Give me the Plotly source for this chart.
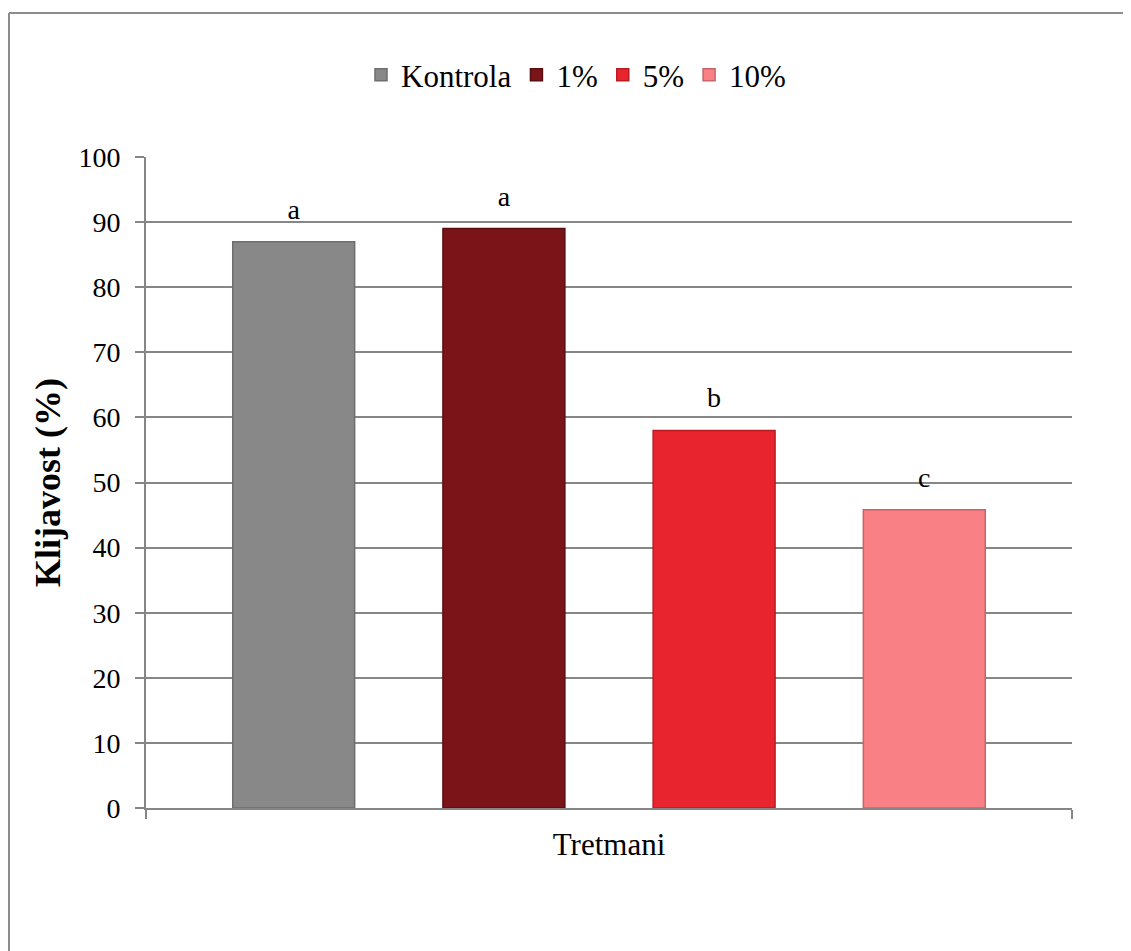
import plotly.graph_objects as go

category = ["Tretmani"]
series_names = ["Kontrola", "1%", "5%", "10%"]
values = [87, 89, 58, 45.8]
letters = ["a", "a", "b", "c"]
colors = ["#888888", "#7A1418", "#E8252E", "#F98084"]
edge_colors = ["#6E6E6E", "#5A0E10", "#B81C22", "#C86467"]
y_ticks = [0, 10, 20, 30, 40, 50, 60, 70, 80, 90, 100]

FONT = "Liberation Serif"

fig = go.Figure()
for name, v, c, ec in zip(series_names, values, colors, edge_colors):
    fig.add_trace(go.Bar(
        name=name, x=category, y=[v], offsetgroup=name,
        marker=dict(color=c, line=dict(color=ec, width=1.5)),
    ))
for name, v, lab in zip(series_names, values, letters):
    fig.add_trace(go.Scatter(
        x=category, y=[v], text=[lab], mode="markers+text", offsetgroup=name,
        textposition="top center", showlegend=False, cliponaxis=False,
        marker=dict(size=24, opacity=0, color="white"),
        textfont=dict(family=FONT, size=28, color="black"),
    ))

# the page body adds an 8px offset; figure coords = reference coords - 8
OFF = 8
W, H = 1131 - OFF, 951 - OFF
L, R, T, B = 146 - OFF, 59, 157 - OFF, 143
pw, ph = W - L - R, H - T - B

def px_x(x):
    return (x - OFF - L) / pw

def px_y(y):
    return (H - B - (y - OFF)) / ph

fig.update_layout(
    width=W, height=H,
    margin=dict(l=L, r=R, t=T, b=B),
    paper_bgcolor="white", plot_bgcolor="white",
    barmode="group", bargap=0.092, bargroupgap=0.42,
    scattermode="group", scattergap=0.092,
    font=dict(family=FONT, size=28, color="black"),
    showlegend=True,
    legend=dict(orientation="h", x=px_x(576), xanchor="center", y=px_y(75), yanchor="middle",
                font=dict(family=FONT, size=31, color="black"), itemwidth=30, traceorder="normal",
                bgcolor="rgba(0,0,0,0)"),
    xaxis=dict(type="category", tickson="boundaries", ticks="outside", ticklen=9,
               tickcolor="#868686", tickwidth=2, showline=True, linecolor="#868686", linewidth=2,
               showgrid=False, range=[-0.5, 0.5], tickfont=dict(family=FONT, size=31),
               ticklabelstandoff=8),
    yaxis=dict(range=[0, 100], tickvals=y_ticks, ticks="outside", ticklen=9, tickcolor="#868686",
               tickwidth=2, showline=True, linecolor="#868686", linewidth=2,
               showgrid=True, gridcolor="#868686", gridwidth=1.5, zeroline=False,
               tickfont=dict(family=FONT, size=28), ticklabelstandoff=9,
               title=dict(text="<b>Klijavost (%)</b>", font=dict(family=FONT, size=36), standoff=7)),
    shapes=[
        dict(type="line", xref="paper", yref="paper", x0=px_x(9), x1=px_x(9), y0=px_y(970), y1=px_y(13),
             line=dict(color="#8C8C8C", width=2)),
        dict(type="line", xref="paper", yref="paper", x0=px_x(9), x1=px_x(1150), y0=px_y(13), y1=px_y(13),
             line=dict(color="#8C8C8C", width=2)),
    ],
)

fig.write_html("out.html")
